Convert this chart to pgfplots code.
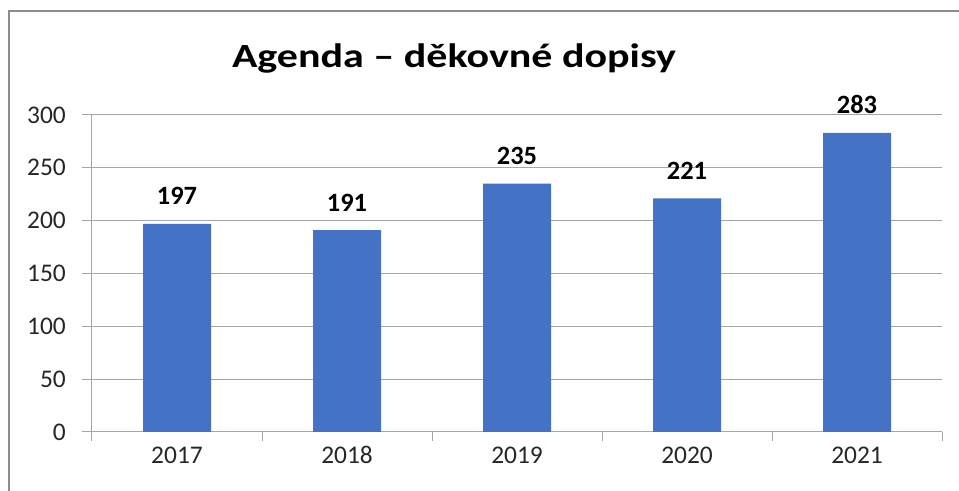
\documentclass[border=0pt]{standalone}
\usepackage{pgfplots}
\pgfplotsset{compat=1.18}
\usepackage{fontspec}
\setmainfont{Carlito}
\newfontfamily\titlefont{Carlito}[FakeStretch=1.24]
\definecolor{barblue}{HTML}{4472C4}
\definecolor{gridgray}{HTML}{A6A6A6}
\definecolor{framegray}{HTML}{8C8C8C}
\begin{document}
\begin{tikzpicture}[x=1bp,y=1bp]
\useasboundingbox (-92,-59) rectangle (867,432);
\draw[framegray, line width=2bp] (-83,-60) -- (-83,421) -- (868,421);
\begin{axis}[
  at={(0,0)}, anchor=south west,
  scale only axis, width=850bp, height=317bp,
  xmin=-0.5, xmax=4.5, ymin=0, ymax=300,
  axis x line*=bottom, axis y line*=left,
  axis line style={gridgray, line width=1bp},
  ybar, bar width=68bp,
  xtick={0,1,2,3,4}, xticklabels={2017,2018,2019,2020,2021},
  minor xtick={-0.5,0.5,1.5,2.5,3.5,4.5},
  major x tick style={draw=none},
  minor tick length=9bp, major tick length=10bp,
  tick align=outside,
  tick style={gridgray, line width=1bp},
  ytick={0,50,...,300},
  ymajorgrids, grid style={gridgray, line width=1bp},
  /pgf/number format/assume math mode=true,
  tick label style={font=\fontsize{25.5}{25.5}\selectfont, text=black!85},
  yticklabel style={anchor=east, inner sep=0pt, xshift=-16bp},
  xticklabel style={anchor=base, inner sep=0pt, yshift=-22bp},
  nodes near coords,
  every node near coord/.append style={font=\bfseries\fontsize{26.5}{26.5}\selectfont, anchor=base, yshift=19bp, text=black},
  clip=false,
]
\addplot[fill=barblue, draw=none] coordinates {(0,197) (1,191) (2,235) (3,221) (4,283)};
\end{axis}
\node[font=\titlefont\bfseries\fontsize{34}{34}\selectfont, anchor=base, inner sep=0pt] at (362,364) {Agenda – děkovné dopisy};
\end{tikzpicture}
\end{document}
